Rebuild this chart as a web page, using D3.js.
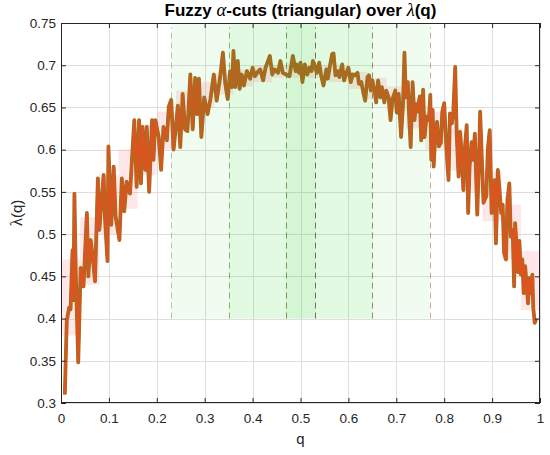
<!DOCTYPE html>
<html>
<head>
<meta charset="utf-8">
<script src="https://cdn.jsdelivr.net/npm/d3@7"></script>
<style>
  body { margin: 0; background: #fff; }
  svg { font-family: "Liberation Sans", Arial, Helvetica, sans-serif; }
</style>
</head>
<body>
<div id="chart"></div>
<script>
// --- Data ---
const qPts = [
  0.008, 0.012, 0.017, 0.020, 0.024, 0.026, 0.028, 0.031, 0.036, 0.041,
  0.047, 0.054, 0.057, 0.062, 0.066, 0.071, 0.077, 0.080, 0.089, 0.092,
  0.097, 0.099, 0.105, 0.110, 0.114, 0.122, 0.127, 0.132, 0.137, 0.144,
  0.153, 0.158, 0.163, 0.167, 0.170, 0.176, 0.179, 0.184, 0.190, 0.193,
  0.197, 0.204, 0.209, 0.214, 0.221, 0.225, 0.230, 0.235, 0.244, 0.249,
  0.254, 0.259, 0.264, 0.270, 0.275, 0.280, 0.284, 0.288, 0.293, 0.299,
  0.306, 0.312, 0.319, 0.325, 0.332, 0.338, 0.343, 0.348, 0.353, 0.357,
  0.360, 0.364, 0.369, 0.373, 0.377, 0.382, 0.388, 0.395, 0.400, 0.405,
  0.412, 0.416, 0.422, 0.427, 0.436, 0.441, 0.446, 0.453, 0.458, 0.463,
  0.470, 0.477, 0.484, 0.490, 0.492, 0.497, 0.500, 0.504, 0.509, 0.514,
  0.519, 0.523, 0.526, 0.530, 0.534, 0.539, 0.543, 0.548, 0.554, 0.557,
  0.562, 0.566, 0.569, 0.573, 0.578, 0.581, 0.587, 0.591, 0.595, 0.600,
  0.605, 0.609, 0.614, 0.619, 0.622, 0.627, 0.631, 0.635, 0.640, 0.643,
  0.647, 0.650, 0.655, 0.658, 0.662, 0.667, 0.670, 0.675, 0.679, 0.684,
  0.688, 0.692, 0.698, 0.701, 0.705, 0.710, 0.714, 0.717, 0.720, 0.724,
  0.727, 0.730, 0.734, 0.738, 0.741, 0.744, 0.749, 0.752, 0.756, 0.759,
  0.763, 0.768, 0.771, 0.773, 0.776, 0.778, 0.782, 0.785, 0.789, 0.793,
  0.796, 0.800, 0.804, 0.809, 0.812, 0.816, 0.819, 0.823, 0.826, 0.830,
  0.833, 0.836, 0.840, 0.843, 0.847, 0.850, 0.853, 0.857, 0.860, 0.864,
  0.869, 0.873, 0.875, 0.880, 0.882, 0.888, 0.891, 0.895, 0.899, 0.901,
  0.905, 0.908, 0.912, 0.915, 0.919, 0.922, 0.925, 0.929, 0.932, 0.936,
  0.939, 0.943, 0.946, 0.948, 0.951, 0.954, 0.957, 0.960, 0.963, 0.966,
  0.969, 0.972, 0.975, 0.978, 0.981, 0.984, 0.986, 0.989, 0.992
];
const lambdaPts = [
  0.310, 0.397, 0.413, 0.411, 0.481, 0.422, 0.548, 0.450, 0.348, 0.460,
  0.438, 0.525, 0.450, 0.493, 0.474, 0.444, 0.566, 0.505, 0.570, 0.517,
  0.468, 0.604, 0.511, 0.580, 0.521, 0.493, 0.566, 0.527, 0.562, 0.548,
  0.635, 0.556, 0.635, 0.560, 0.627, 0.576, 0.627, 0.550, 0.635, 0.588,
  0.635, 0.615, 0.576, 0.627, 0.611, 0.651, 0.659, 0.600, 0.652, 0.603,
  0.666, 0.624, 0.622, 0.689, 0.624, 0.685, 0.642, 0.684, 0.615, 0.662,
  0.642, 0.660, 0.689, 0.658, 0.685, 0.715, 0.678, 0.660, 0.693, 0.674,
  0.717, 0.674, 0.705, 0.672, 0.689, 0.676, 0.693, 0.684, 0.697, 0.687,
  0.693, 0.695, 0.682, 0.697, 0.711, 0.689, 0.695, 0.691, 0.705, 0.691,
  0.689, 0.687, 0.711, 0.693, 0.701, 0.691, 0.703, 0.680, 0.701, 0.689,
  0.697, 0.693, 0.705, 0.699, 0.691, 0.703, 0.688, 0.676, 0.695, 0.684,
  0.701, 0.713, 0.714, 0.688, 0.693, 0.686, 0.701, 0.682, 0.689, 0.697,
  0.680, 0.689, 0.688, 0.691, 0.678, 0.680, 0.668, 0.658, 0.686, 0.688,
  0.670, 0.682, 0.668, 0.656, 0.682, 0.662, 0.674, 0.656, 0.670, 0.662,
  0.635, 0.660, 0.670, 0.644, 0.666, 0.615, 0.654, 0.715, 0.662, 0.680,
  0.638, 0.603, 0.680, 0.635, 0.654, 0.645, 0.663, 0.611, 0.671, 0.615,
  0.639, 0.635, 0.665, 0.588, 0.647, 0.580, 0.623, 0.633, 0.604, 0.608,
  0.645, 0.655, 0.608, 0.564, 0.643, 0.631, 0.645, 0.698, 0.619, 0.568,
  0.621, 0.600, 0.552, 0.600, 0.629, 0.525, 0.580, 0.609, 0.588, 0.619,
  0.523, 0.596, 0.645, 0.568, 0.537, 0.545, 0.600, 0.623, 0.525, 0.552,
  0.564, 0.489, 0.576, 0.556, 0.525, 0.535, 0.478, 0.470, 0.541, 0.560,
  0.497, 0.505, 0.438, 0.513, 0.488, 0.455, 0.492, 0.452, 0.470, 0.430,
  0.462, 0.440, 0.418, 0.448, 0.430, 0.452, 0.412, 0.395, 0.400
];

// pink envelope around the trace, one step per bin
const bandEdges = [0, 0.04, 0.08, 0.12, 0.16, 0.20, 0.24, 0.28, 0.32, 0.36, 0.40, 0.44, 0.48,
                   0.52, 0.56, 0.60, 0.64, 0.68, 0.72, 0.76, 0.80, 0.84, 0.88, 0.92, 0.96, 1.0];
const bandLo = [0.38, 0.44, 0.50, 0.53, 0.57, 0.60, 0.63, 0.65, 0.665, 0.675, 0.68, 0.685,
                0.685, 0.685, 0.68, 0.672, 0.66, 0.645, 0.625, 0.60, 0.575, 0.55, 0.515, 0.47, 0.41];
const bandHi = [0.47, 0.52, 0.57, 0.60, 0.63, 0.645, 0.67, 0.68, 0.69, 0.695, 0.70, 0.70,
                0.70, 0.70, 0.70, 0.692, 0.685, 0.675, 0.66, 0.645, 0.625, 0.60, 0.575, 0.535, 0.48];

// alpha-cuts of the triangular fuzzy number
const cutAlpha = [0.1, 0.5, 0.9];
const cutLo = [0.23, 0.35, 0.47];
const cutHi = [0.77, 0.65, 0.53];
const cutBase = 0.4;

const xTicks = [0, 0.1, 0.2, 0.3, 0.4, 0.5, 0.6, 0.7, 0.8, 0.9, 1];
const yTicks = [0.3, 0.35, 0.4, 0.45, 0.5, 0.55, 0.6, 0.65, 0.7, 0.75];

// --- Layout ---
const W = 550, H = 455;
const margin = { top: 23, right: 10, bottom: 52, left: 61 };
const x0 = margin.left, x1 = W - margin.right, y0 = margin.top, y1 = H - margin.bottom;

const svg = d3.select("#chart").append("svg")
  .attr("width", W).attr("height", H);

const x = d3.scaleLinear().domain([0, 1]).range([x0, x1]);
const y = d3.scaleLinear().domain([0.3, 0.75]).range([y1, y0]);

// grid
const grid = svg.append("g").attr("class", "grid").attr("stroke", "#dedede").attr("stroke-width", 1);
grid.selectAll("line.gx").data(xTicks).enter().append("line")
  .attr("x1", d => Math.round(x(d)) + 0.5).attr("x2", d => Math.round(x(d)) + 0.5)
  .attr("y1", y0).attr("y2", y1);
grid.selectAll("line.gy").data(yTicks).enter().append("line")
  .attr("y1", d => Math.round(y(d)) + 0.5).attr("y2", d => Math.round(y(d)) + 0.5)
  .attr("x1", x0).attr("x2", x1);

// alpha-cut shading (stacked, translucent)
svg.append("g").selectAll("rect").data(cutAlpha).enter().append("rect")
  .attr("x", (d, i) => x(cutLo[i]))
  .attr("width", (d, i) => x(cutHi[i]) - x(cutLo[i]))
  .attr("y", y(0.75))
  .attr("height", y(cutBase) - y(0.75))
  .attr("fill", "rgb(60,215,60)")
  .attr("fill-opacity", 0.075);

// pink envelope
const bandData = bandLo.map((lo, i) => ({ q0: bandEdges[i], q1: bandEdges[i + 1], lo, hi: bandHi[i] }));
svg.append("g").selectAll("rect").data(bandData).enter().append("rect")
  .attr("x", d => x(d.q0)).attr("width", d => x(d.q1) - x(d.q0))
  .attr("y", d => y(d.hi)).attr("height", d => y(d.lo) - y(d.hi))
  .attr("fill", "#ff8090").attr("fill-opacity", 0.2);

// dashed cut boundaries
const cutLines = cutAlpha.flatMap((a, i) => [
  { q: cutLo[i], a, side: "lo" },
  { q: cutHi[i], a, side: "hi" }
]);
svg.append("g").selectAll("line").data(cutLines).enter().append("line")
  .attr("x1", d => Math.round(x(d.q)) + 0.5).attr("x2", d => Math.round(x(d.q)) + 0.5)
  .attr("y1", y(cutBase)).attr("y2", y(0.745))
  .attr("stroke", d => d.side === "lo" ? "#5e8f2e" : "#6e4d36")
  .attr("stroke-opacity", d => 0.4 + 0.5 * d.a)
  .attr("stroke-width", 1)
  .attr("stroke-dasharray", "6,4");

// lambda(q) trace
const pts = qPts.map((q, i) => [q, lambdaPts[i]]);
const line = d3.line().x(d => x(d[0])).y(d => y(d[1]));

// orange fades toward the core of the triangle
const grad = svg.append("defs").append("linearGradient")
  .attr("id", "traceFade")
  .attr("gradientUnits", "userSpaceOnUse")
  .attr("x1", x(0)).attr("x2", x(1)).attr("y1", 0).attr("y2", 0);
[[0, 1], [0.2, 0.95], [0.35, 0.55], [0.5, 0.3], [0.65, 0.55], [0.8, 0.95], [1, 1]]
  .forEach(([o, op]) => grad.append("stop")
    .attr("offset", o).attr("stop-color", "#dc5420").attr("stop-opacity", op));

svg.append("path").datum(pts)
  .attr("d", line)
  .attr("fill", "none")
  .attr("stroke", "#867a1e")
  .attr("stroke-width", 3.8)
  .attr("stroke-linejoin", "round");

svg.append("path").datum(pts)
  .attr("d", line)
  .attr("fill", "none")
  .attr("stroke", "url(#traceFade)")
  .attr("stroke-width", 2.6)
  .attr("stroke-linejoin", "round");

// axes (MATLAB-style box with inward ticks)
const fmt = d => String(d);
const axisColor = "#262626";

function styleAxis(g) {
  g.select(".domain").remove();
  g.selectAll(".tick line").attr("stroke", axisColor);
  g.selectAll(".tick text").attr("fill", axisColor).attr("font-size", 13.5);
}

svg.append("g").attr("transform", `translate(0,${y1})`)
  .call(d3.axisBottom(x).tickValues(xTicks).tickFormat(fmt).tickSize(-5).tickPadding(10))
  .call(styleAxis);
svg.append("g").attr("transform", `translate(0,${y0})`)
  .call(d3.axisTop(x).tickValues(xTicks).tickFormat("").tickSize(-5))
  .call(styleAxis);
svg.append("g").attr("transform", `translate(${x0},0)`)
  .call(d3.axisLeft(y).tickValues(yTicks).tickFormat(fmt).tickSize(-5).tickPadding(5))
  .call(styleAxis);
svg.append("g").attr("transform", `translate(${x1},0)`)
  .call(d3.axisRight(y).tickValues(yTicks).tickFormat("").tickSize(-5))
  .call(styleAxis);

svg.append("rect")
  .attr("x", x0 + 0.5).attr("y", y0 + 0.5)
  .attr("width", x1 - x0 - 1).attr("height", y1 - y0 - 1)
  .attr("fill", "none").attr("stroke", axisColor).attr("stroke-width", 1);

// title
const title = svg.append("text")
  .attr("x", (x0 + x1) / 2).attr("y", 16)
  .attr("text-anchor", "middle")
  .attr("font-size", 17).attr("font-weight", "bold").attr("fill", "#000");
title.append("tspan").text("Fuzzy ");
title.append("tspan").attr("font-family", "'Liberation Serif', 'DejaVu Serif', serif")
  .attr("font-style", "italic").attr("font-weight", "normal").attr("font-size", 18.5).text("α");
title.append("tspan").text("-cuts (triangular) over ");
title.append("tspan").attr("font-family", "'Liberation Serif', 'DejaVu Serif', serif")
  .attr("font-style", "italic").attr("font-weight", "normal").attr("font-size", 18.5).text("λ");
title.append("tspan").text("(q)");

// axis labels
svg.append("text")
  .attr("x", (x0 + x1) / 2).attr("y", 444)
  .attr("text-anchor", "middle").attr("font-size", 15).attr("fill", axisColor)
  .text("q");

const yl = svg.append("text")
  .attr("transform", `translate(22,${(y0 + y1) / 2}) rotate(-90)`)
  .attr("text-anchor", "middle").attr("font-size", 15).attr("fill", axisColor);
yl.append("tspan").attr("font-family", "'Liberation Serif', 'DejaVu Serif', serif")
  .attr("font-size", 17).text("λ");
yl.append("tspan").text("(q)");
</script>
</body>
</html>
